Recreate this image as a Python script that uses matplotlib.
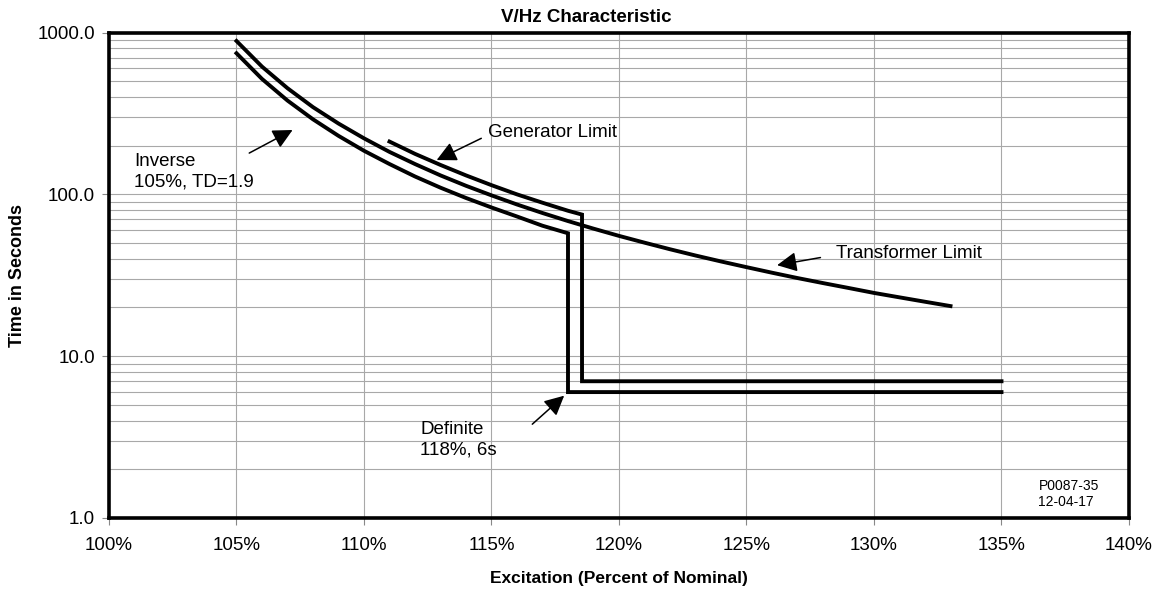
import matplotlib
matplotlib.use("Agg")
import matplotlib.pyplot as plt
from matplotlib.ticker import FixedLocator, FuncFormatter, NullLocator

plt.rcParams['font.family'] = ['Liberation Sans', 'DejaVu Sans']

# Inverse 105%, TD=1.9 then definite 118%, 6 s
inv_x = [105, 106, 107, 108, 109, 110, 111, 112, 113, 114, 115, 116, 117, 118, 118, 135]
inv_t = [745, 517, 380, 291, 230, 186, 154, 129, 110, 95, 83, 73, 64, 57.5, 6.0, 6.0]

# Transformer limit
xf_x = [105, 106, 107, 108, 109, 110, 111, 112, 113, 114, 115, 116, 117, 118, 119, 120,
        121, 122, 123, 124, 125, 126, 127, 128, 129, 130, 131, 132, 133]
xf_t = [887, 616, 453, 346, 274, 222, 183, 154, 131, 113, 98.6, 86.6, 76.7, 68.4, 61.4, 55.4,
        50.3, 45.8, 41.9, 38.5, 35.5, 32.8, 30.4, 28.3, 26.4, 24.6, 23.1, 21.7, 20.4]

# Generator limit
gen_x = [111, 112, 113, 114, 115, 116, 117, 118, 118.55, 118.55, 135]
gen_t = [212, 178, 152, 131, 114, 100, 88.8, 79.2, 75.0, 7.0, 7.0]

fig = plt.figure(figsize=(11.57, 5.92), dpi=100)
ax = fig.add_axes([0.0942, 0.125, 0.8816, 0.820])

lw = 2.8
ax.plot(inv_x, inv_t, color='black', lw=lw, solid_joinstyle='miter', zorder=3)
ax.plot(xf_x, xf_t, color='black', lw=lw, solid_joinstyle='miter', zorder=3)
ax.plot(gen_x, gen_t, color='black', lw=lw, solid_joinstyle='miter', zorder=3)

ax.set_yscale('log')
ax.set_xlim(100, 140)
ax.set_ylim(1, 1000)

ax.xaxis.set_major_locator(FixedLocator(range(100, 141, 5)))
ax.xaxis.set_major_formatter(FuncFormatter(lambda v, p: f"{v:.0f}%"))
ax.yaxis.set_major_locator(FixedLocator([1, 10, 100, 1000]))
ax.yaxis.set_major_formatter(FuncFormatter(lambda v, p: f"{v:.1f}"))
minors = [m * d for d in (1, 10, 100) for m in range(2, 10)]
ax.yaxis.set_minor_locator(FixedLocator(minors))
ax.xaxis.set_minor_locator(NullLocator())

ax.grid(True, which='major', axis='both', color='#a8a8a8', lw=0.8)
ax.grid(True, which='minor', axis='y', color='#a8a8a8', lw=0.8)
ax.tick_params(axis='both', which='major', labelsize=13.5, length=5, width=0.8,
               color='#888888')
ax.tick_params(axis='x', pad=9)
ax.tick_params(axis='y', pad=5)
ax.tick_params(axis='y', which='minor', length=0)

for s in ax.spines.values():
    s.set_linewidth(2.6)
    s.set_color('black')

# title sits a bit left of the axes centre in the original
fig.text(0.507, 0.970, 'V/Hz Characteristic', fontsize=13.5, fontweight='bold',
         ha='center', va='center')
ax.set_xlabel('Excitation (Percent of Nominal)', fontsize=12.5, fontweight='bold', labelpad=12)
ax.set_ylabel('Time in Seconds', fontsize=13, fontweight='bold', labelpad=8)

arrow = dict(arrowstyle='-|>', color='black', lw=1.1, mutation_scale=30, shrinkA=0, shrinkB=0)
fs = 13.5

ax.text(101.0, 138, 'Inverse\n105%, TD=1.9', fontsize=fs, va='center', ha='left', linespacing=1.25)
ax.annotate('', xy=(107.2, 250), xytext=(105.5, 180), arrowprops=arrow)

ax.text(114.85, 240, 'Generator Limit', fontsize=fs, va='center', ha='left')
ax.annotate('', xy=(112.85, 163), xytext=(114.6, 222), arrowprops=arrow)

ax.text(128.5, 43.4, 'Transformer Limit', fontsize=fs, va='center', ha='left')
ax.annotate('', xy=(126.2, 36.5), xytext=(127.9, 40.7), arrowprops=arrow)

ax.text(112.2, 3.05, 'Definite\n118%, 6s', fontsize=fs, va='center', ha='left', linespacing=1.25)
ax.annotate('', xy=(117.85, 5.7), xytext=(116.6, 3.8), arrowprops=arrow)

ax.text(136.45, 1.4, 'P0087-35\n12-04-17', fontsize=10, va='center', ha='left', linespacing=1.2)

fig.savefig('out.png', dpi=100)
